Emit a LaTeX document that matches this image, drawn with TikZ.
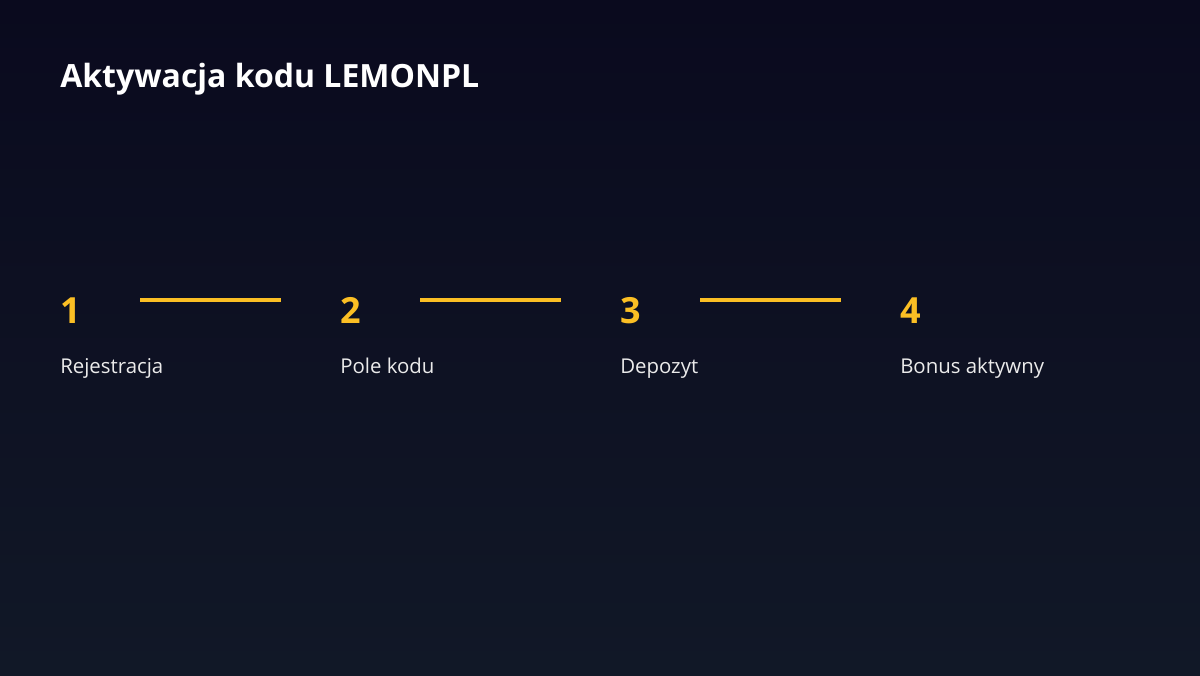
\documentclass[tikz,border=0pt]{standalone}
\usepackage{fontspec}
\setmainfont{Open Sans}
\definecolor{bgtop}{HTML}{0A0A1E}
\definecolor{bgbot}{HTML}{111827}
\definecolor{stepyellow}{HTML}{FBBF24}
\begin{document}
\begin{tikzpicture}[x=0.75pt,y=-0.75pt,
  title/.style={anchor=base west,inner sep=0pt,text=white,font=\bfseries\fontsize{24}{28}\selectfont},
  num/.style={anchor=base west,inner sep=0pt,text=stepyellow,font=\bfseries\fontsize{27}{31}\selectfont},
  desc/.style={anchor=base west,inner sep=0pt,text=white!92!black,font=\fontsize{15.3}{18}\selectfont},
  link/.style={draw=stepyellow,line width=2.4pt}
]
  \shade[top color=bgtop,bottom color=bgbot] (0,0) rectangle (1200,675);
  \useasboundingbox (0,0) rectangle (1200,675);

  \node [title] (head) at (60,87) {Aktywacja kodu LEMONPL};

  \foreach \i/\x/\txt in {1/60/Rejestracja,2/340/Pole kodu,3/620/Depozyt,4/900/Bonus aktywny} {
    \node [num] (n\i) at (\x,323) {\i};
    \node [desc] (d\i) at (\x,373) {\txt};
  }

  \foreach \i in {1,2,3} {
    \coordinate (a\i) at ([xshift=80*0.75pt]n\i.base west |- 0,300);
    \coordinate (b\i) at ([xshift=221*0.75pt]n\i.base west |- 0,300);
    \draw [link] (a\i) -- (b\i);
  }
\end{tikzpicture}
\end{document}
